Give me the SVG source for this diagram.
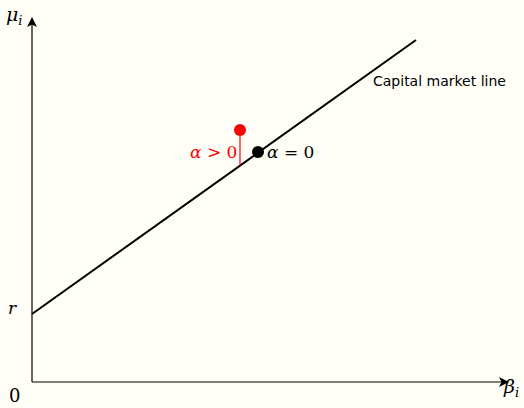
<svg xmlns="http://www.w3.org/2000/svg" width="524" height="408" viewBox="0 0 524 408">
<defs>
<marker id="ah" viewBox="0 0 10 10" refX="9" refY="5" markerWidth="10" markerHeight="10" markerUnits="userSpaceOnUse" orient="auto">
<path d="M0,0 L10,5 L0,10 L2.5,5 Z" fill="#000"/>
</marker>
</defs>
<style>
.m{font-family:'DejaVu Serif',serif;font-style:italic;font-size:19px;fill:#000}
.n{font-family:'DejaVu Serif',serif;font-size:17px;fill:#000}
.s{font-family:'DejaVu Sans',sans-serif;font-size:14px;fill:#000}
.ax{stroke:#000;stroke-width:1.2;fill:none}
</style>
<rect width="524" height="408" fill="#fffff8"/>
<g id="connectors">
<line class="ax" x1="32" y1="382" x2="32" y2="18" marker-end="url(#ah)"/>
<line class="ax" x1="32" y1="382" x2="508" y2="382" marker-end="url(#ah)"/>
<line x1="32" y1="314" x2="416" y2="40" stroke="#000" stroke-width="2"/>
<line x1="240" y1="130" x2="240" y2="165.5" stroke="#f00" stroke-width="1.2"/>
</g>
<g id="axis-labels">
<text class="m" x="6" y="21">μ<tspan style="font-size:13px" dy="4">i</tspan></text>
<text class="m" x="504" y="393">β<tspan style="font-size:13px" dy="4">i</tspan></text>
<text class="m" x="8" y="314" style="font-size:17px">r</text>
<text class="n" x="9" y="402" style="font-size:18px">0</text>
</g>
<g id="cml-label">
<text class="s" x="373" y="86">Capital market line</text>
</g>
<g id="alpha-pos">
<circle cx="240" cy="130" r="6" fill="#f00"/>
<text class="n" x="190" y="158" style="fill:#f00"><tspan font-style="italic">α</tspan> &gt; 0</text>
</g>
<g id="alpha-zero">
<circle cx="258" cy="152" r="6" fill="#000"/>
<text class="n" x="267" y="158"><tspan font-style="italic">α</tspan> = 0</text>
</g>
</svg>
